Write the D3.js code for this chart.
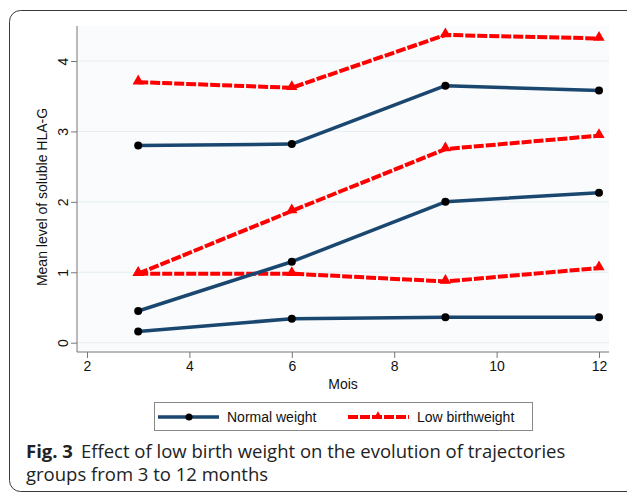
<!DOCTYPE html>
<html><head><meta charset="utf-8">
<script src="https://cdn.jsdelivr.net/npm/d3@7"></script>
<style>
html,body{margin:0;padding:0;background:#fff;}
svg{display:block;}
</style></head>
<body>
<svg id="chart" width="627" height="496"></svg>
<script>
// ---- data ----
const months = [3, 6, 9, 12];
const normalLow = [0.16, 0.34, 0.36, 0.36];
const normalMid = [0.45, 1.15, 2.00, 2.13];
const normalHigh = [2.80, 2.82, 3.65, 3.58];
const lbwLow = [0.98, 0.98, 0.87, 1.06];
const lbwMid = [0.98, 1.87, 2.75, 2.94];
const lbwHigh = [3.70, 3.62, 4.37, 4.32];
const xTicks = [2, 4, 6, 8, 10, 12];
const yTicks = [0, 1, 2, 3, 4];
const legendLabels = ["Normal weight", "Low birthweight"];
const yTitle = "Mean level of soluble HLA-G";
const xTitle = "Mois";
const captionBold = "Fig. 3";
const captionLine1 = "Effect of low birth weight on the evolution of trajectories";
const captionLine2 = "groups from 3 to 12 months";

const navy = "#1a476f", red = "#ff0000";
const svg = d3.select("#chart");

// outer frame
svg.append("rect").attr("x", 9.5).attr("y", 10.5).attr("width", 640).attr("height", 481)
  .attr("rx", 11).attr("fill", "none").attr("stroke", "#3a3a3a").attr("stroke-width", 1);

const x = d3.scaleLinear().domain([2, 12]).range([87, 599]);
const y = d3.scaleLinear().domain([0, 4]).range([342.7, 61]);
const plotL = 77, plotR = 609, plotT = 26, plotB = 352;

// plot region
svg.append("rect").attr("x", plotL).attr("y", plotT).attr("width", plotR - plotL).attr("height", plotB - plotT)
  .attr("fill", "#fafbfc");

// gridlines
svg.append("g").selectAll("line").data(yTicks).join("line")
  .attr("x1", plotL).attr("x2", plotR).attr("y1", d => y(d)).attr("y2", d => y(d))
  .attr("stroke", "#e6eef1").attr("stroke-width", 1);

// axes
const fontAx = "Liberation Sans, Arial, sans-serif";
const yAxis = svg.append("g").attr("transform", `translate(${plotL},0)`)
  .call(d3.axisLeft(y).tickValues(yTicks).tickSize(6).tickPadding(4).tickFormat(d3.format("d")));
yAxis.select(".domain").attr("d", `M0,${plotT}V${plotB}`);
yAxis.selectAll("line").attr("stroke", "#777");
yAxis.select(".domain").attr("stroke", "#777");
yAxis.selectAll("text").attr("font-family", fontAx).attr("font-size", 14).attr("fill", "#111")
  .attr("x", -14).attr("y", 0).attr("dy", "0.35em").attr("text-anchor", "middle")
  .attr("transform", "rotate(-90,-14,0)");

const xAxis = svg.append("g").attr("transform", `translate(0,${plotB})`)
  .call(d3.axisBottom(x).tickValues(xTicks).tickSize(6).tickPadding(3).tickFormat(d3.format("d")));
xAxis.select(".domain").attr("d", `M${plotL},0H${plotR}`).attr("stroke", "#777");
xAxis.selectAll("line").attr("stroke", "#777");
xAxis.selectAll("text").attr("font-family", fontAx).attr("font-size", 14).attr("fill", "#111");

svg.append("text").attr("x", (plotL + plotR) / 2).attr("y", 389).attr("text-anchor", "middle")
  .attr("font-family", fontAx).attr("font-size", 14).attr("fill", "#111").text(xTitle);
svg.append("text").attr("transform", `translate(47,${(plotT + plotB) / 2 + 8}) rotate(-90)`)
  .attr("text-anchor", "middle").attr("font-family", fontAx).attr("font-size", 14).attr("fill", "#111").text(yTitle);

// series
const line = d3.line().x((d, i) => x(months[i])).y(d => y(d));
const normals = [normalLow, normalMid, normalHigh];
const lbws = [lbwLow, lbwMid, lbwHigh];
const tri = d3.symbol().type(d3.symbolTriangle).size(55);

lbws.forEach(s => {
  svg.append("path").datum(s).attr("d", line).attr("fill", "none").attr("stroke", red)
    .attr("stroke-width", 4).attr("stroke-dasharray", "10,2").attr("stroke-linejoin", "round");
});
normals.forEach(s => {
  svg.append("path").datum(s).attr("d", line).attr("fill", "none").attr("stroke", navy)
    .attr("stroke-width", 3.5).attr("stroke-linejoin", "round");
});
lbws.forEach(s => {
  svg.append("g").selectAll("path").data(s).join("path")
    .attr("d", tri).attr("transform", (d, i) => `translate(${x(months[i])},${y(d) - 1})`).attr("fill", red);
});
normals.forEach(s => {
  svg.append("g").selectAll("circle").data(s).join("circle")
    .attr("cx", (d, i) => x(months[i])).attr("cy", d => y(d)).attr("r", 4).attr("fill", "#000");
});

// legend
const lg = svg.append("g");
lg.append("rect").attr("x", 154.5).attr("y", 402.5).attr("width", 378).attr("height", 28)
  .attr("fill", "#fff").attr("stroke", "#888").attr("stroke-width", 1);
const ly = 417;
lg.append("line").attr("x1", 158).attr("x2", 219).attr("y1", ly).attr("y2", ly).attr("stroke", navy).attr("stroke-width", 3.5);
lg.append("circle").attr("cx", 189).attr("cy", ly).attr("r", 3.5).attr("fill", "#000");
lg.append("text").attr("x", 227).attr("y", ly + 5).attr("font-family", fontAx).attr("font-size", 14).attr("fill", "#111").text(legendLabels[0]);
lg.append("line").attr("x1", 348).attr("x2", 409).attr("y1", ly).attr("y2", ly).attr("stroke", red).attr("stroke-width", 4).attr("stroke-dasharray", "10,2");
lg.append("path").attr("d", d3.symbol().type(d3.symbolTriangle).size(30)).attr("transform", `translate(378,${ly - 1})`).attr("fill", red);
lg.append("text").attr("x", 417).attr("y", ly + 5).attr("font-family", fontAx).attr("font-size", 14).attr("fill", "#111").text(legendLabels[1]);

// caption
const capFont = "'Open Sans', 'Noto Sans', sans-serif";
const c1 = svg.append("text").attr("x", 26).attr("y", 458).attr("font-family", capFont).attr("font-size", 18.5).attr("fill", "#222");
c1.append("tspan").attr("font-weight", "bold").text(captionBold);
c1.append("tspan").attr("dx", 8).text(captionLine1);
svg.append("text").attr("x", 26).attr("y", 481).attr("font-family", capFont).attr("font-size", 18.5).attr("fill", "#222").text(captionLine2);
</script>
</body></html>
